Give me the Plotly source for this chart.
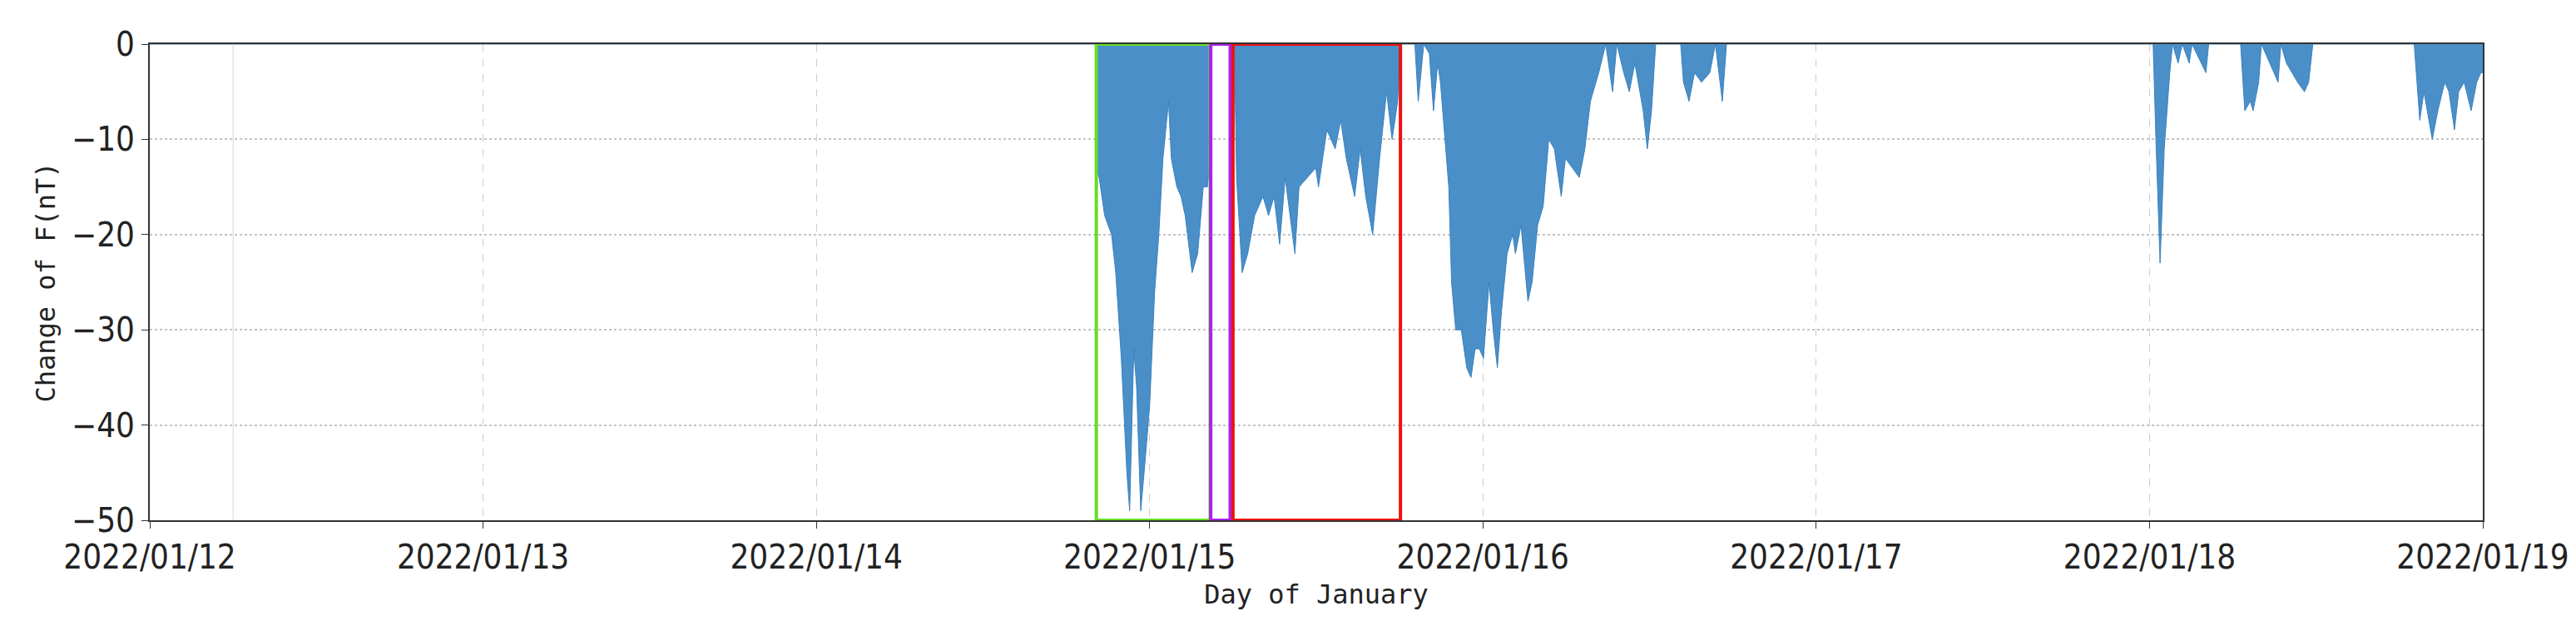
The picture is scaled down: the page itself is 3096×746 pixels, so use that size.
import pandas as pd
import plotly.graph_objects as go

# hours relative to the given day, and change of F in nT
day15 = "2022-01-15"
h15 = [-3.9, -3.84, -3.64, -3.24, -2.74, -2.44, -2.04, -1.64, -1.44, -1.14, -0.94, -0.64, -0.34, 0.0,
       0.36, 0.66, 0.96, 1.36, 1.56, 1.96, 2.26, 2.56, 3.06, 3.46, 3.86, 4.16, 4.36, 4.46,
       6.1, 6.26, 6.66, 7.06, 7.56, 8.16, 8.56, 8.96, 9.36, 9.76, 10.46, 10.76, 11.36, 11.96,
       12.16, 12.76, 13.36, 13.76, 14.16, 14.76, 15.16, 15.56, 16.06, 16.56, 17.06, 17.46, 17.86, 18.06]
v15 = [0, -13, -14, -18, -20, -24, -33, -45, -49, -32, -36, -49, -44, -38,
       -26, -20, -12, -6, -12, -15, -16, -18, -24, -22, -15, -15, -12, 0,
       0, -14, -24, -22, -18, -16, -18, -16, -21, -14, -22, -15, -14, -13,
       -15, -9, -11, -8, -12, -16, -11, -16, -20, -12, -5, -10, -6, 0]

day16 = "2022-01-16"
h16 = [-4.9, -4.66, -4.26, -3.86, -3.56, -3.26, -3.06, -2.46, -2.26, -1.96, -1.56, -1.16, -0.86, -0.56,
       -0.26, 0.04, 0.44, 0.74, 1.04, 1.34, 1.74, 2.14, 2.34, 2.74, 3.24, 3.54, 3.94, 4.34, 4.74,
       5.14, 5.64, 5.94, 6.44, 6.94, 7.34, 7.74, 8.34, 8.84, 9.34, 9.64, 10.14, 10.54, 10.94, 11.54,
       11.84, 12.14, 12.44, 14.24, 14.44, 14.84, 15.24, 15.74, 16.34, 16.74, 17.24, 17.54]
v16 = [0, -6, 0, -1, -7, -2, -4, -15, -25, -30, -30, -34, -35, -32,
       -32, -33, -25, -30, -34, -28, -22, -20, -22, -19, -27, -25, -19, -17, -10,
       -11, -16, -12, -13, -14, -11, -6, -3, 0, -5, 0, -3, -5, -2, -7,
       -11, -7, 0, 0, -4, -6, -3, -4, -3, 0, -6, 0]

day18 = "2022-01-18"
h18 = [0.26, 0.46, 0.76, 1.06, 1.46, 1.66, 2.06, 2.36, 2.86, 3.06, 4.06, 4.26, 6.56, 6.86, 7.26,
       7.46, 7.86, 8.06, 9.26, 9.46, 9.86, 10.26, 10.66, 11.16, 11.46, 11.76, 19.06, 19.46, 19.76,
       20.36, 20.76, 21.26, 21.56, 21.96, 22.26, 22.66, 23.16, 23.56, 23.86, 24.0]
v18 = [0, -10, -23, -11, -3, 0, -2, 0, -2, 0, -3, 0, 0, -7, -6,
       -7, -4, 0, -4, 0, -2, -3, -4, -5, -4, 0, 0, -8, -5,
       -10, -7, -4, -5, -9, -5, -4, -7, -4, -3, -3]

# box edges (day, start hour, end hour)
boxes = [("2022-01-15", -3.84, 4.36, "#66dd22"),
         ("2022-01-15", 4.4, 5.8, "#aa22ee"),
         ("2022-01-15", 6.0, 18.06, "#ee1111")]

tick_days = ["2022-01-12", "2022-01-13", "2022-01-14", "2022-01-15",
             "2022-01-16", "2022-01-17", "2022-01-18", "2022-01-19"]


def at(day, h):
    return (pd.Timestamp(day) + pd.Timedelta(hours=h)).round("s").strftime("%Y-%m-%d %H:%M:%S")


def to_time(day, hours):
    return [at(day, h) for h in hours]


x = ["2022-01-12 00:00:00"] + to_time(day15, h15) + to_time(day16, h16) + to_time(day18, h18)
y = [0] + v15 + v16 + v18

fig = go.Figure()
fig.add_trace(go.Scatter(x=x, y=y, mode="lines", fill="tozeroy",
                         line=dict(color="#3a82bf", width=1, simplify=False),
                         fillcolor="#4a8fc8", showlegend=False))

for d, h0, h1, c in boxes:
    fig.add_shape(type="rect", xref="x", yref="y",
                  x0=at(d, h0), x1=at(d, h1),
                  y0=-50, y1=0, line=dict(color=c, width=4))

# faint vertical marker near the start
fig.add_shape(type="line", xref="x", yref="paper",
              x0="2022-01-12 06:00", x1="2022-01-12 06:00",
              y0=0, y1=1, line=dict(color="#c8d8e8", width=1))

tick_font = dict(family="Liberation Sans Narrow, Arial Narrow, DejaVu Sans Condensed", size=40, color="#222")
title_font = dict(family="DejaVu Sans Mono, monospace", size=32, color="#222")

fig.update_xaxes(range=["2022-01-12", "2022-01-19"],
                 tickvals=tick_days, ticktext=[d.replace("-", "/") for d in tick_days],
                 showgrid=True, gridcolor="#cccccc", griddash="dash", gridwidth=1,
                 showline=True, linecolor="#333", linewidth=2, mirror=True,
                 ticks="outside", ticklen=8, tickcolor="#333",
                 tickfont=tick_font, zeroline=False,
                 title=dict(text="Day of January", font=title_font, standoff=12))
fig.update_yaxes(range=[-50, 0], tickvals=[0, -10, -20, -30, -40, -50],
                 showgrid=True, gridcolor="#c4c4c4", griddash="dot", gridwidth=2,
                 showline=True, linecolor="#333", linewidth=2, mirror=True,
                 ticks="outside", ticklen=8, tickcolor="#333",
                 tickfont=tick_font, zeroline=False,
                 title=dict(text="Change of F(nT)", font=title_font, standoff=10))

fig.update_layout(width=3096, height=746, plot_bgcolor="white", paper_bgcolor="white",
                  margin=dict(l=172, r=120, t=45, b=129))

fig.write_html("out.html")
